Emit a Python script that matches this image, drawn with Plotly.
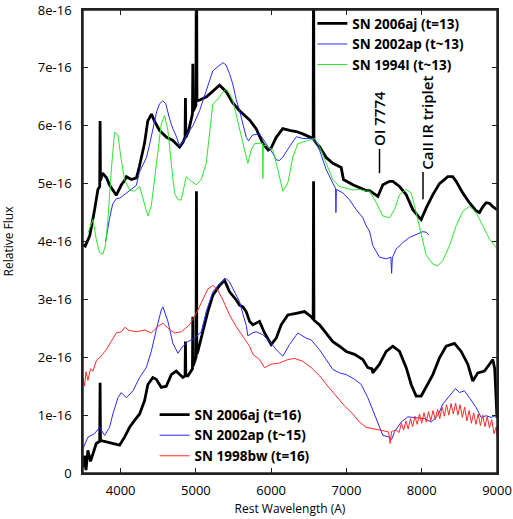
import plotly.graph_objects as go

# ---------------- data (flux in units of 1e-16) ----------------
aj13_wave = [3500,3530,3590,3630,3654,3698,3722,3727,3732,3760,3813,3850,3895,3943,4010,4050,4077,4143,4210,4250,
             4318,4360,4410,4450,4517,4610,4690,4783,4830,4856,4861,4866,4900,4954,4959,4964,5000,5007,5014,5060,
             5140,5222,5315,5408,5488,5580,5713,5800,5887,5960,6000,6067,6154,6244,6333,6420,6530,6558,6563,6568,
             6598,6642,6731,6819,6930,6960,7085,7262,7307,7418,7484,7573,7617,7705,7794,7882,7971,7993,8060,8148,
             8236,8346,8412,8457,8545,8634,8723,8767,8811,8856,8900,8944,9000]
aj13_flux = [3.95,3.92,4.10,4.35,4.55,4.90,4.95,6.08,5.05,5.18,5.10,4.98,4.90,4.80,4.98,5.05,5.12,5.07,5.10,5.30,
             5.70,6.08,6.20,6.08,5.92,5.80,5.75,5.63,5.72,5.80,6.48,5.80,5.90,6.20,7.07,6.25,6.35,9.50,6.43,6.45,
             6.50,6.60,6.70,6.58,6.40,6.26,6.10,5.95,5.70,5.58,5.62,5.80,5.95,5.92,5.90,5.86,5.80,5.78,9.50,5.76,
             5.70,5.64,5.45,5.35,5.28,5.07,4.98,4.88,4.88,4.78,4.98,5.04,5.04,4.95,4.81,4.55,4.41,4.38,4.58,4.81,
             5.00,5.12,5.12,5.04,4.84,4.67,4.53,4.50,4.60,4.67,4.66,4.60,4.55]

ap13_wave = [3800,3830,3853,3895,3943,3990,4040,4077,4160,4208,4250,4343,4380,4428,4480,4517,4560,4600,4650,4693,
             4739,4783,4830,4872,4960,5049,5137,5225,5300,5360,5400,5447,5490,5536,5580,5625,5669,5700,5752,5845,
             5890,5934,6022,6067,6110,6155,6244,6333,6420,6553,6642,6731,6819,6855,6860,6866,6952,7041,7130,7218,
             7262,7306,7350,7439,7528,7590,7600,7610,7660,7748,7837,7926,8014,8060,8094]
ap13_flux = [4.00,4.25,4.40,4.65,4.74,4.75,4.80,4.85,4.92,4.97,5.20,5.45,5.65,5.95,6.25,6.38,6.43,6.38,6.12,5.95,
             5.82,5.65,5.72,5.83,6.00,6.26,6.60,6.95,7.03,7.09,7.05,6.90,6.72,6.45,6.26,6.00,5.80,5.74,5.84,5.86,
             5.78,5.69,5.52,5.41,5.40,5.46,5.64,5.81,5.78,5.78,5.58,5.24,5.01,4.92,4.50,4.90,4.84,4.72,4.55,4.41,
             4.27,4.18,3.93,3.73,3.70,3.73,3.45,3.72,3.87,3.98,4.07,4.12,4.17,4.16,4.11]

i94_wave = [3565,3632,3676,3720,3765,3800,3831,3876,3920,3964,4008,4052,4119,4185,4252,4318,4362,4407,4473,4540,
            4583,4628,4673,4716,4760,4805,4872,4938,5005,5071,5137,5181,5225,5292,5358,5403,5447,5491,5535,5580,
            5640,5690,5735,5779,5868,5885,5890,5896,5934,6022,6089,6155,6221,6288,6354,6465,6576,6642,6731,6819,
            6908,6997,7085,7174,7262,7307,7396,7484,7572,7638,7705,7794,7860,7926,7993,8060,8148,8213,8280,8369,
            8457,8545,8634,8723,8811,8900,8988]
i94_flux = [4.15,4.38,4.04,3.81,3.78,3.95,4.38,5.24,5.89,5.84,5.41,5.07,4.89,4.87,4.95,4.67,4.44,4.61,5.35,6.03,
            6.18,5.92,5.35,4.84,4.72,4.72,5.12,5.04,4.98,5.07,5.35,5.92,6.38,6.46,6.58,6.63,6.55,6.43,6.20,5.95,
            5.60,5.35,5.58,5.69,5.70,5.70,5.09,5.66,5.66,5.58,5.24,4.87,5.01,5.46,5.69,5.74,5.78,5.64,5.35,5.07,
            4.95,4.92,4.89,4.90,4.87,4.87,4.67,4.44,4.41,4.55,4.81,4.90,4.84,4.50,4.10,3.76,3.61,3.58,3.67,3.93,
            4.27,4.52,4.61,4.50,4.27,4.04,3.90]

aj16_wave = [3500,3520,3540,3565,3600,3632,3676,3722,3727,3732,3743,3809,3897,3986,4052,4119,4185,4252,4318,4362,
             4428,4473,4540,4606,4673,4739,4827,4856,4861,4866,4894,4938,4954,4959,4964,5002,5007,5012,5026,5093,
             5159,5225,5314,5380,5447,5536,5580,5624,5668,5713,5757,5845,5912,6000,6067,6133,6221,6332,6443,6532,
             6558,6563,6568,6642,6731,6819,6908,6997,7107,7218,7284,7340,7350,7439,7528,7616,7705,7794,7860,7926,
             7993,8059,8148,8236,8324,8435,8524,8612,8678,8745,8833,8900,8944,8970,8990,9000]
aj16_flux = [0.10,0.30,0.05,0.39,0.20,0.34,0.51,0.55,1.56,0.56,0.56,0.54,0.51,0.48,0.62,0.79,0.91,1.02,1.25,1.53,
             1.65,1.62,1.48,1.50,1.70,1.76,1.65,1.68,2.27,1.68,1.68,1.76,1.80,2.70,1.85,2.00,4.87,2.05,2.10,2.44,
             2.79,3.07,3.24,3.33,3.13,2.99,2.90,2.87,2.79,2.62,2.56,2.62,2.42,2.22,2.33,2.56,2.73,2.76,2.79,2.70,
             2.66,5.04,2.64,2.56,2.42,2.27,2.19,2.10,2.05,1.96,1.82,1.80,1.73,1.88,2.10,2.19,2.10,1.82,1.53,1.33,
             1.33,1.48,1.70,1.99,2.19,2.24,2.10,1.88,1.59,1.73,1.76,1.88,1.96,1.80,1.10,0.95]

ap15_wave = [3500,3565,3654,3720,3787,3853,3897,3964,4008,4075,4163,4252,4340,4407,4473,4540,4562,4628,4694,4761,
             4827,4894,4983,5071,5137,5225,5314,5403,5447,5491,5580,5624,5669,5690,5750,5801,5889,6000,6067,6155,
             6244,6354,6465,6532,6642,6731,6819,6908,6997,7107,7196,7284,7350,7417,7484,7572,7600,7638,7727,7815,
             7926,8037,8126,8213,8280,8369,8449,8501,8567,8634,8723,8789,8856,8922,8980,9000]
ap15_flux = [0.42,0.62,0.68,0.79,0.65,0.79,1.02,1.30,1.39,1.30,1.42,1.65,1.82,2.10,2.47,2.82,2.87,2.62,2.24,2.07,
             2.19,2.27,2.33,2.44,2.79,3.13,3.27,3.36,3.30,3.18,2.96,2.75,2.55,2.37,2.42,2.44,2.39,2.24,2.13,2.02,
             2.22,2.42,2.33,2.30,2.13,1.96,1.79,1.73,1.70,1.62,1.53,1.30,1.08,0.85,0.65,0.62,0.58,0.71,0.88,0.97,
             0.96,0.94,0.88,0.99,1.19,1.33,1.46,1.39,1.42,1.30,1.13,0.96,0.99,0.96,0.99,0.98]

bw16_wave = [3500,3520,3540,3565,3600,3632,3680,3720,3809,3875,3942,4008,4060,4097,4208,4318,4407,4495,4562,4628,
             4716,4805,4916,5005,5093,5159,5225,5292,5358,5447,5536,5624,5713,5757,5845,5912,6000,6111,6221,6310,
             6420,6532,6642,6753,6864,6974,7085,7173,7262,7395,7500,7560,7580,7600,7660,
             7700,7730,7760,7790,7820,7850,7880,7910,7940,7970,8000,8030,8060,8090,8120,8150,8180,8210,8240,8270,
             8300,8330,8360,8390,8420,8450,8480,8510,8540,8570,8600,8630,8660,8690,8720,8750,8780,8810,8840,8870,
             8900,8930,8960,8990,9000]
bw16_flux = [1.65,1.50,1.75,1.60,1.80,1.76,1.95,1.99,2.13,2.27,2.42,2.44,2.52,2.47,2.44,2.47,2.42,2.53,2.59,2.50,
             2.42,2.44,2.56,2.76,3.01,3.18,3.24,3.16,2.99,2.73,2.53,2.36,2.19,2.05,1.96,1.82,1.88,1.90,1.96,1.98,
             1.93,1.82,1.68,1.50,1.33,1.16,1.02,0.88,0.79,0.76,0.73,0.71,0.51,0.72,0.74,
             0.70,0.86,0.74,0.90,0.76,0.94,0.80,0.98,0.84,1.02,0.86,1.04,0.88,1.06,0.90,1.08,0.92,1.10,0.94,1.14,
             0.98,1.18,1.00,1.20,1.02,1.21,1.00,1.18,0.96,1.14,0.90,1.08,0.86,1.04,0.84,1.02,0.82,1.00,0.80,0.98,
             0.78,0.92,0.68,0.80,0.62]

names_top = ["SN 2006aj (t=13)", "SN 2002ap (t~13)", "SN 1994I (t~13)"]
names_bot = ["SN 2006aj (t=16)", "SN 2002ap (t~15)", "SN 1998bw (t=16)"]

y_tickvals = [0, 1, 2, 3, 4, 5, 6, 7, 8]
y_ticktext = ["0", "1e-16", "2e-16", "3e-16", "4e-16", "5e-16", "6e-16", "7e-16", "8e-16"]
x_tickvals = [4000, 5000, 6000, 7000, 8000, 9000]

annot_labels = ["OI 7774", "CaII IR triplet"]
annot_text_wave = [7430, 8075]
annot_text_mid = [6.13, 6.06]
annot_line_wave = [7439, 8017]
annot_line_top = [5.60, 5.20]
annot_line_bot = [5.18, 4.73]

BLACK = "#000000"
BLUE = "#2a2aff"
GREEN = "#2ee62e"
RED = "#ff2a2a"
FONT = "Open Sans"

fig = go.Figure()

series = [
    (aj13_wave, aj13_flux, names_top[0], BLACK, 2.8, "legend"),
    (ap13_wave, ap13_flux, names_top[1], BLUE, 1.0, "legend"),
    (i94_wave, i94_flux, names_top[2], GREEN, 1.0, "legend"),
    (aj16_wave, aj16_flux, names_bot[0], BLACK, 2.8, "legend2"),
    (ap15_wave, ap15_flux, names_bot[1], BLUE, 1.0, "legend2"),
    (bw16_wave, bw16_flux, names_bot[2], RED, 1.0, "legend2"),
]
for w, f, n, c, lw, lg in series:
    fig.add_trace(go.Scatter(x=w, y=f, mode="lines", name=n,
                             line=dict(color=c, width=lw), legend=lg))

for lab, tx, ty, lx, y0, y1 in zip(annot_labels, annot_text_wave, annot_text_mid,
                                   annot_line_wave, annot_line_top, annot_line_bot):
    fig.add_annotation(x=tx, y=ty, xref="x", yref="y", text=lab, showarrow=False,
                       textangle=-90, xanchor="center", yanchor="middle",
                       font=dict(family=FONT, size=15, color="black", weight=600))
    fig.add_shape(type="line", xref="x", yref="y", x0=lx, x1=lx, y0=y0, y1=y1,
                  line=dict(color="black", width=1.5))

# plot frame
fig.add_shape(type="rect", xref="paper", yref="paper", x0=0, x1=1, y0=0, y1=1,
              line=dict(color="#222", width=1.5), fillcolor="rgba(0,0,0,0)", layer="above")

axis_line = dict(showline=True, linecolor="#222", linewidth=1.5, showgrid=False, zeroline=False,
                 ticks="inside", ticklen=5, tickcolor="#222", mirror="ticks", automargin=False,
                 ticklabeloverflow="allow")

fig.update_layout(
    width=513, height=519,
    margin=dict(l=83, r=16, t=8, b=46),
    paper_bgcolor="white", plot_bgcolor="white",
    font=dict(family=FONT, size=13, color="black"),
    xaxis=dict(range=[3500, 9000], tickvals=x_tickvals, ticklabelstandoff=5,
               title=dict(text="Rest Wavelength (A)", font=dict(size=12), standoff=6),
               **axis_line),
    yaxis=dict(range=[0, 8], tickvals=y_tickvals, ticktext=y_ticktext, ticklabelstandoff=7,
               title=dict(text="Relative Flux", font=dict(size=12), standoff=22),
               **axis_line),
    legend=dict(x=0.554, y=1.004, xanchor="left", yanchor="top", bgcolor="rgba(0,0,0,0)",
                font=dict(family=FONT, size=13.5, weight=700), tracegroupgap=0, itemwidth=30),
    legend2=dict(x=0.173, y=0.159, xanchor="left", yanchor="top", bgcolor="rgba(0,0,0,0)",
                 font=dict(family=FONT, size=13.5, weight=700), tracegroupgap=0, itemwidth=30),
    showlegend=True,
)

fig.write_html("out.html", config={"displayModeBar": False},
               post_script="document.body.style.margin='0px';")
